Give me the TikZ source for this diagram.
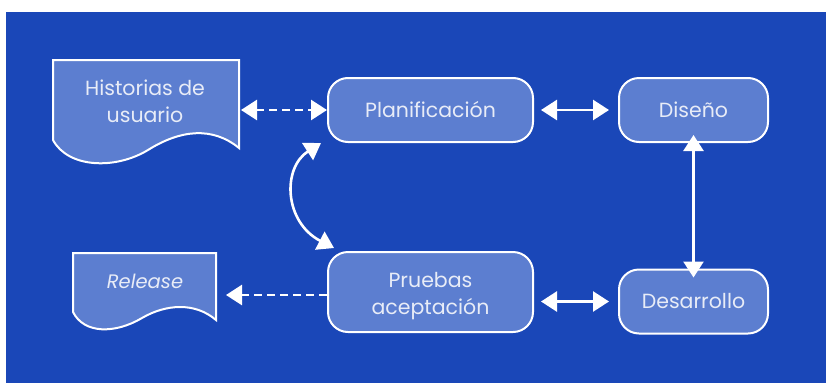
\documentclass[tikz,border=0pt]{standalone}
\usepackage{fontspec}
\setmainfont{Poppins}
\usetikzlibrary{arrows.meta}
\definecolor{bgblue}{HTML}{1A47B8}
\definecolor{boxblue}{HTML}{5C7ED0}
\definecolor{txt}{HTML}{E8ECF7}
\begin{document}
\begin{tikzpicture}[x=1pt,y=-1pt,
  proc/.style={draw=white,line width=2pt,fill=boxblue,rounded corners=20pt,
    minimum width=#1,minimum height=64pt,inner sep=0pt,text=txt,
    font=\fontsize{20.5}{28}\selectfont,align=center},
  doc/.style={draw=white,line width=2pt,fill=boxblue},
  lbl/.style={text=txt,font=\fontsize{20.5}{27}\selectfont,align=center,inner sep=0pt},
  tip/.tip={Triangle[length=16pt,width=20pt]},
  link/.style={white,line width=2.6pt,tip-tip},
  dlink/.style={link,dash pattern=on 8pt off 5pt},
]
\useasboundingbox (0,0) rectangle (826,383);
\fill[bgblue] (6,12) rectangle (826,383);
% documents
\draw[doc] (53,60) -- (239,60) -- (239,148)
  .. controls (212,126) and (180,130) .. (148,150)
  .. controls (115,170) and (68,168) .. (53,140) -- cycle;
\node[lbl] (hist) at (145,101) {Historias de\\usuario};
\coordinate (histR) at (241,110);
\draw[doc] (73,253) -- (216,253) -- (216,320)
  .. controls (195,302) and (166,304) .. (142,318)
  .. controls (115,334) and (84,334) .. (73,312) -- cycle;
\node[lbl,font=\fontsize{19.5}{25}\selectfont\itshape] (rel) at (145,281) {Release};
\coordinate (relR) at (226,295);
% processes
\node[proc=205pt] (plan) at (430.5,110) {Planificación};
\node[proc=149pt] (dis) at (693.5,110) {Diseño};
\node[proc=149pt] (des) at (693.5,301.5) {Desarrollo};
\node[proc=205pt,minimum height=80pt] (pru) at (430.5,292) {};
\node[lbl] (prut) at (430.5,296) {Pruebas\\aceptación};
% connectors
\draw[dlink] (histR) -- (plan.west);
\draw[link] ([xshift=7pt]plan.east) -- ([xshift=-9pt]dis.west);
\draw[link] ([yshift=8pt]dis.south) -- ([yshift=-9pt]des.north);
\draw[link] ([xshift=7pt]pru.east |- des.west) -- ([xshift=-9pt]des.west);
\draw[white,line width=2.6pt,dash pattern=on 8pt off 5pt,-tip]
  (pru.west |- relR) -- (relR);
\coordinate (cA) at (321,143);
\coordinate (cB) at (334,248);
\draw[link] (cA) .. controls (282,168) and (284,222) .. (cB);
\end{tikzpicture}
\end{document}
